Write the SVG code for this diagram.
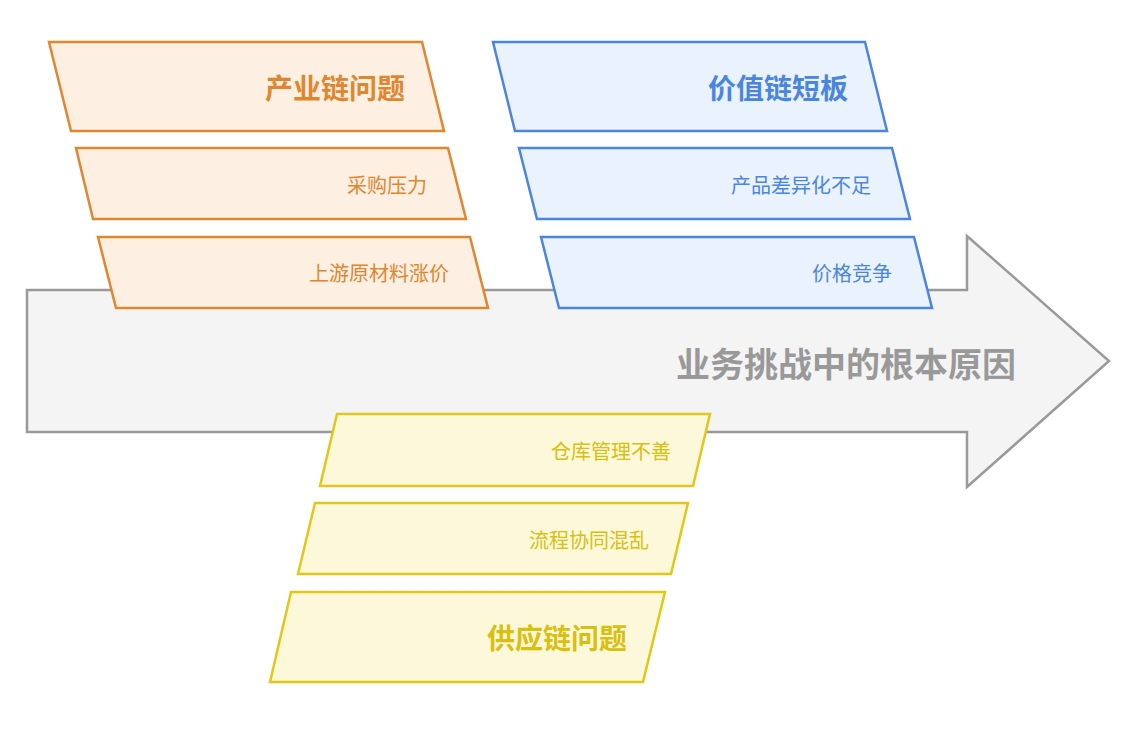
<svg xmlns="http://www.w3.org/2000/svg" width="1126" height="729" viewBox="0 0 1126 729">
<style>
text{font-family:"Noto Sans CJK SC","Noto Sans",sans-serif;text-anchor:end;dominant-baseline:central}
.o{fill:#fdf0e3;stroke:#e0862f;stroke-width:2.5}
.b{fill:#eaf2fd;stroke:#4a86e0;stroke-width:2.5}
.y{fill:#fdf8d9;stroke:#e2c718;stroke-width:2.5}
.ot{fill:#e0862f}.bt{fill:#4a86e0}.yt{fill:#d8bf10}
.h{font-size:28px;font-weight:bold}.i{font-size:20px}
</style>
<rect width="1126" height="729" fill="#fff"/>
<g id="main">
<polygon points="27,290 967,290 967,236 1109,361 967,487 967,432 27,432" fill="#f4f4f4" stroke="#999" stroke-width="2.5"/>
<text x="1016" y="362" style="font-size:34px;font-weight:bold;fill:#999">业务挑战中的根本原因</text>
</g>
<g id="industry">
<polygon class="o" points="49,42 422,42 444,131 71,131"/><text class="ot h" x="405" y="87">产业链问题</text>
</g>
<g id="o1"><polygon class="o" points="76,148 448,148 466,219 93,219"/><text class="ot i" x="427" y="184">采购压力</text></g>
<g id="o2"><polygon class="o" points="98,237 470,237 488,308 116,308"/><text class="ot i" x="449" y="272">上游原材料涨价</text></g>
<g id="value"><polygon class="b" points="493,42 865,42 887,131 515,131"/><text class="bt h" x="848" y="87">价值链短板</text></g>
<g id="b1"><polygon class="b" points="519,148 892,148 910,219 537,219"/><text class="bt i" x="871" y="184">产品差异化不足</text></g>
<g id="b2"><polygon class="b" points="541,237 914,237 932,308 559,308"/><text class="bt i" x="892" y="272">价格竞争</text></g>
<g id="y1"><polygon class="y" points="337,414 710,414 693,486 320,486"/><text class="yt i" x="671" y="450">仓库管理不善</text></g>
<g id="y2"><polygon class="y" points="315,503 688,503 671,574 298,574"/><text class="yt i" x="649" y="539">流程协同混乱</text></g>
<g id="supply"><polygon class="y" points="291,592 665,592 643,682 270,682"/><text class="yt h" x="627" y="637">供应链问题</text></g>
<g id="connectors"/>
</svg>
